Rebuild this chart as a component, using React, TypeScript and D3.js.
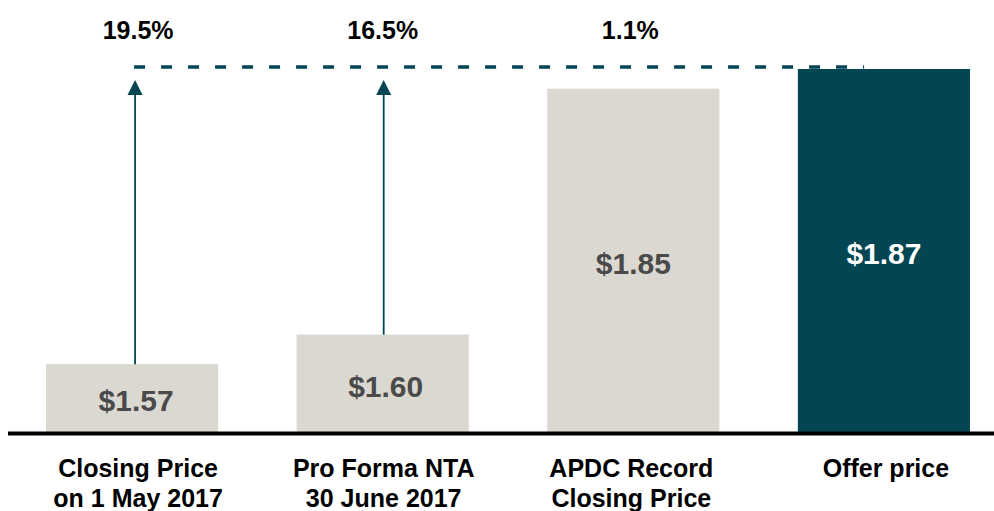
import { useEffect } from "react";
import * as d3 from "d3";

const categories = [
  ["Closing Price", "on 1 May 2017"],
  ["Pro Forma NTA", "30 June 2017"],
  ["APDC Record", "Closing Price"],
  ["Offer price"],
];
const prices = [1.57, 1.6, 1.85, 1.87];
const premiums = ["19.5%", "16.5%", "1.1%"];
const arrowBars = [0, 1];

const width = 994;
const height = 511;
const grey = "#dbd7d1";
const teal = "#024654";
const font = "'Liberation Sans', Arial, sans-serif";

// small hand nudges so the text lines up like the original slide
const labelShift = [6, 1, -2, 2];
const valueShift = [4, 3, 0, 0];

export default function App() {
  useEffect(() => {
    document.body.style.margin = "0";
  }, []);

  const x = d3
    .scaleBand<number>()
    .domain(d3.range(prices.length))
    .range([46, 970])
    .paddingInner(0.313)
    .paddingOuter(0);
  const y = d3.scaleLinear().domain([1.5, 1.87]).range([433, 69]);

  const bw = x.bandwidth();
  const cx = (i: number) => (x(i) ?? 0) + bw / 2;
  const offerY = y(prices[prices.length - 1]) - 2;
  const lastX = x(prices.length - 1) ?? 0;

  return (
    <svg width={width} height={height} style={{ display: "block" }} fontFamily={font}>
      {prices.map((p, i) => (
        <rect
          key={i}
          x={x(i)}
          y={y(p)}
          width={bw}
          height={y(1.5) - y(p)}
          fill={i === prices.length - 1 ? teal : grey}
        />
      ))}

      {prices.map((p, i) => (
        <text
          key={"v" + i}
          x={cx(i) + valueShift[i]}
          y={(y(p) + y(1.5)) / 2 + 2}
          dy="0.36em"
          textAnchor="middle"
          fontSize={30}
          fontWeight="bold"
          fill={i === prices.length - 1 ? "#ffffff" : "#4a4a4a"}
        >
          {d3.format("$.2f")(p)}
        </text>
      ))}

      <line
        x1={cx(0) + 2}
        x2={lastX + bw * 0.385}
        y1={offerY}
        y2={offerY}
        stroke={teal}
        strokeWidth={3.4}
        strokeDasharray="11,16"
      />

      {arrowBars.map((i) => {
        const ax = cx(i) + (i === 0 ? 3 : 1);
        const tip = offerY + 13;
        return (
          <g key={"a" + i}>
            <line x1={ax} x2={ax} y1={y(prices[i])} y2={tip + 12} stroke={teal} strokeWidth={1.8} />
            <path d={`M${ax},${tip} L${ax - 7.5},${tip + 15} L${ax + 7.5},${tip + 15} Z`} fill={teal} />
          </g>
        );
      })}

      {premiums.map((t, i) => (
        <text
          key={"p" + i}
          x={cx(i) + (i === 0 ? 6 : 0) - (i === 2 ? 3 : 0)}
          y={39}
          textAnchor="middle"
          fontSize={25}
          fontWeight="bold"
          fill="#000"
        >
          {t}
        </text>
      ))}

      <line x1={8} x2={width} y1={433.5} y2={433.5} stroke="#000" strokeWidth={4} />

      {categories.map((lines, i) => (
        <text key={"c" + i} textAnchor="middle" fontSize={25} fontWeight="bold" fill="#000">
          {lines.map((l, j) => (
            <tspan key={j} x={cx(i) + labelShift[i]} y={477 + j * 30}>
              {l}
            </tspan>
          ))}
        </text>
      ))}
    </svg>
  );
}
